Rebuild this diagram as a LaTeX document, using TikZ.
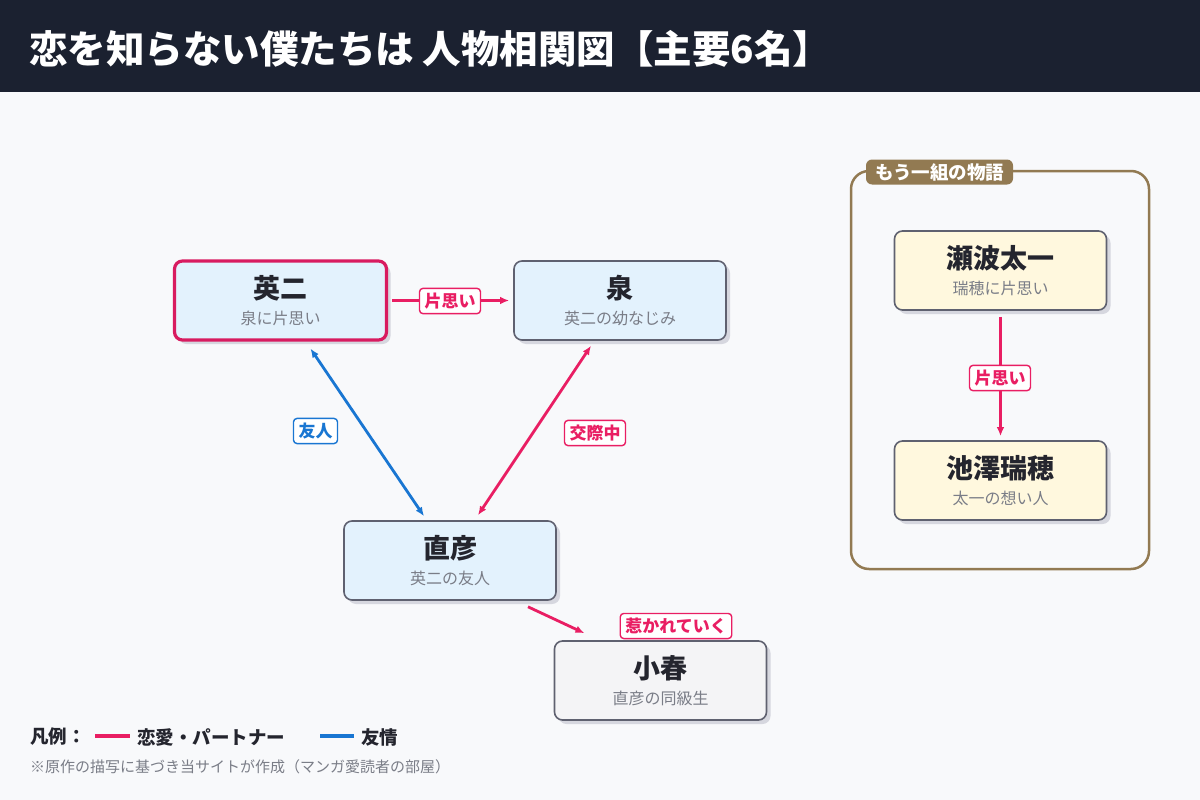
\documentclass[tikz,border=0pt]{standalone}
\usepackage{fontspec}
\setmainfont{Noto Sans CJK JP}
\usetikzlibrary{calc,arrows.meta,shadows}
\definecolor{hdr}{HTML}{1B2130}
\definecolor{bgc}{HTML}{F8F9FB}
\definecolor{pinkc}{HTML}{E91E63}
\definecolor{pinkb}{HTML}{D81B60}
\definecolor{bluec}{HTML}{1976D2}
\definecolor{lblue}{HTML}{E3F2FD}
\definecolor{bord}{HTML}{5F6170}
\definecolor{cream}{HTML}{FFF8DE}
\definecolor{lgray}{HTML}{F4F4F6}
\definecolor{brownc}{HTML}{927A52}
\definecolor{subg}{HTML}{7A7D87}
\definecolor{darkt}{HTML}{24252E}
\definecolor{shad}{HTML}{D6D7DF}
\tikzset{
  person/.style={rounded corners=8pt, draw=bord, line width=1.6pt, minimum width=212pt, minimum height=79pt,
    inner sep=0pt,
    drop shadow={shadow xshift=4pt, shadow yshift=-4pt, fill=shad, opacity=1}},
  ptitle/.style={inner sep=0pt, text=darkt, font=\fontsize{27}{30}\selectfont\bfseries},
  psub/.style={inner sep=0pt, text=subg, font=\fontsize{16}{18}\selectfont},
  rel/.style={line width=2.8pt, -{Latex[length=9pt,width=7.5pt]}},
  relboth/.style={line width=2.8pt, {Latex[length=9pt,width=7.5pt]}-{Latex[length=9pt,width=7.5pt]}},
  lbl/.style={fill=white, rounded corners=3.5pt, line width=1.4pt, inner xsep=5pt, inner ysep=4.5pt, font=\fontsize{17}{19}\selectfont\bfseries},
  legt/.style={anchor=west, inner sep=0pt, text=darkt, font=\fontsize{18.5}{20}\selectfont\bfseries},
}
\newcommand{\pers}[5][]{%
  \node[person,#1] (#2) at #3 {};
  \node[ptitle] (#2-t) at ($(#2)+(0,-12)$) {#4};
  \node[psub] (#2-s) at ($(#2)+(0,18)$) {#5};}
\begin{document}
\begin{tikzpicture}[x=1pt,y=-1pt]
\useasboundingbox (0,0) rectangle (1200,800);
\fill[bgc] (0,0) rectangle (1200,800);
\fill[hdr] (0,0) rectangle (1200,92);
\node[anchor=west, text=white, font=\fontsize{38.5}{41}\selectfont\bfseries, inner sep=0pt] (title) at (29,49) {恋を知らない僕たちは 人物相関図【主要6名】};

% group box
\draw[brownc, line width=2.5pt, rounded corners=18pt] (851,171) rectangle (1149,569);
\node[fill=brownc, rounded corners=6pt, text=white, font=\fontsize{18.5}{20}\selectfont\bfseries, minimum width=147pt, minimum height=25pt, inner sep=0pt] (grp) at (939.5,172) {もう一組の物語};

% persons
\pers[fill=lblue, draw=pinkb, line width=3.2pt]{eiji}{(280.5,300.5)}{英二}{泉に片思い}
\pers[fill=lblue]{izumi}{(620,300.5)}{泉}{英二の幼なじみ}
\pers[fill=lblue]{naohiko}{(450,560.5)}{直彦}{英二の友人}
\pers[fill=lgray]{koharu}{(660.5,680.5)}{小春}{直彦の同級生}
\pers[fill=cream]{taichi}{(1000.5,270.5)}{瀬波太一}{瑞穂に片思い}
\pers[fill=cream]{mizuho}{(1000.5,480.5)}{池澤瑞穂}{太一の想い人}

% edges
\draw[rel, pinkc] ($(eiji.east)+(4,0)$) -- ($(izumi.west)+(-4,0)$);
\node[lbl, draw=pinkc, text=pinkc] (l1) at (450,301) {片思い};

\draw[relboth, bluec] ($(eiji.south)+(30,7)$) -- ($(naohiko.north)+(-26,-4)$);
\node[lbl, draw=bluec, text=bluec] (l2) at (315.5,431) {友人};

\draw[relboth, pinkc] ($(izumi.south)+(-29,5)$) -- ($(naohiko.north)+(28,-5)$);
\node[lbl, draw=pinkc, text=pinkc] (l3) at (595,433) {交際中};

\draw[rel, pinkc] ($(naohiko.south)+(78,6)$) -- ($(koharu.north)+(-76,-7)$);
\node[lbl, draw=pinkc, text=pinkc] (l4) at (676,626) {惹かれていく};

\draw[rel, pinkc] ($(taichi.south)+(0,6)$) -- ($(mizuho.north)+(0,-4)$);
\node[lbl, draw=pinkc, text=pinkc] (l5) at (1000,378) {片思い};

% legend
\node[legt] (lg) at (30,737) {凡例：};
\coordinate (lp1) at (95,736);
\coordinate (lp2) at (130,736);
\draw[pinkc, line width=4pt] (lp1) -- (lp2);
\node[legt] (lgp) at (137,737) {恋愛・パートナー};
\coordinate (lb1) at (320,736);
\coordinate (lb2) at (354,736);
\draw[bluec, line width=4pt] (lb1) -- (lb2);
\node[legt] (lgb) at (361,737) {友情};
\node[anchor=west, inner sep=0pt, text=subg, font=\fontsize{15}{17}\selectfont] (note) at (30,767) {※原作の描写に基づき当サイトが作成（マンガ愛読者の部屋）};
\end{tikzpicture}
\end{document}
